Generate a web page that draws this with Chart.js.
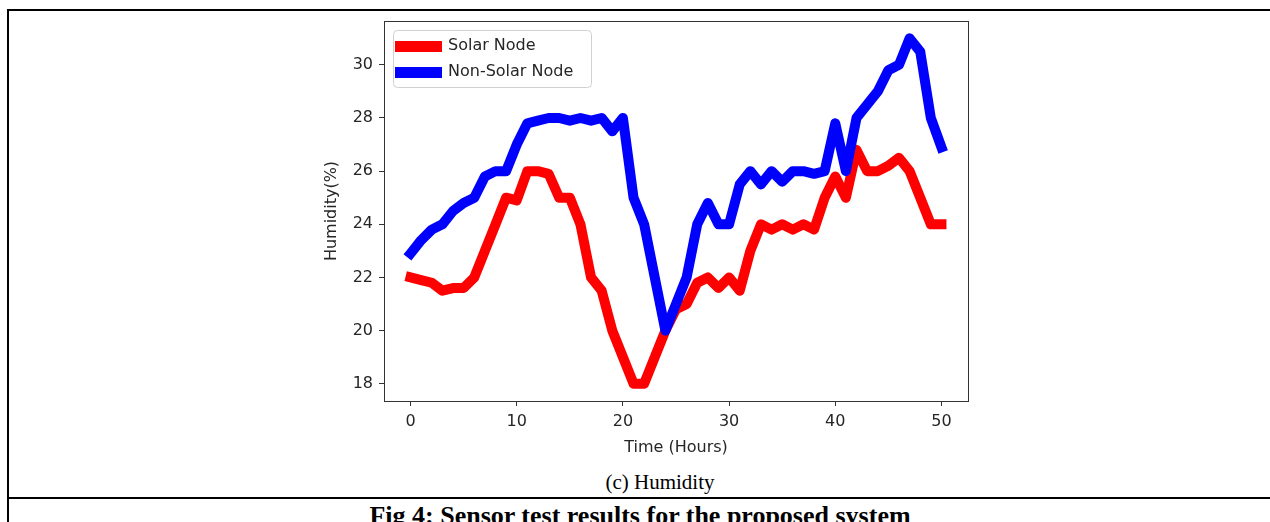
<!DOCTYPE html>
<html lang="en">
<head>
    <meta charset="UTF-8">
    <title>Humidity</title>
    <script src="https://cdn.jsdelivr.net/npm/chart.js@4.4.0/dist/chart.umd.min.js"></script>
    <style>
        body {
            margin: 0;
            background: #ffffff;
            width: 1270px;
            height: 522px;
            overflow: hidden;
            position: relative;
        }
        .rule {
            position: absolute;
            background: #000;
        }
        .caption {
            position: absolute;
            font-family: 'Liberation Serif', 'Times New Roman', serif;
            font-size: 21px;
            color: #000;
            white-space: nowrap;
            transform: translateX(-50%);
        }
        #humidityChart {
            position: absolute;
            left: 0;
            top: 0;
        }
    </style>
</head>
<body>
    <div class="rule" style="left:7px; top:9px; width:1263px; height:2px;"></div>
    <div class="rule" style="left:7px; top:9px; width:2px; height:513px;"></div>
    <div class="rule" style="left:7px; top:497px; width:1263px; height:2px;"></div>

    <div class="caption" style="left:660px; top:470px;">(c) Humidity</div>
    <div class="caption" style="left:640px; top:501px; font-size:26px; font-weight:bold;">Fig 4: Sensor test results for the proposed system</div>

    <canvas id="humidityChart" width="1270" height="470"></canvas>

    <script>
        // data
        const hours = [0, 1, 2, 3, 4, 5, 6, 7, 8, 9, 10,
            11, 12, 13, 14, 15, 16, 17, 18, 19, 20,
            21, 22, 23, 24, 25, 26, 27, 28, 29, 30,
            31, 32, 33, 34, 35, 36, 37, 38, 39, 40,
            41, 42, 43, 44, 45, 46, 47, 48, 49, 50];
        const solarNode = [22.0, 21.9, 21.8, 21.5, 21.6, 21.6, 22.0, 23.0, 24.0, 25.0, 24.9,
            26.0, 26.0, 25.9, 25.0, 25.0, 24.0, 22.0, 21.5, 20.0, 19.0,
            18.0, 18.0, 19.0, 20.0, 20.8, 21.0, 21.8, 22.0, 21.6, 22.0,
            21.5, 23.0, 24.0, 23.8, 24.0, 23.8, 24.0, 23.8, 25.0, 25.8,
            25.0, 26.8, 26.0, 26.0, 26.2, 26.5, 26.0, 25.0, 24.0, 24.0];
        const nonSolarNode = [22.9, 23.4, 23.8, 24.0, 24.5, 24.8, 25.0, 25.8, 26.0, 26.0, 27.0,
            27.8, 27.9, 28.0, 28.0, 27.9, 28.0, 27.9, 28.0, 27.5, 28.0,
            25.0, 24.0, 22.0, 20.0, 21.0, 22.0, 24.0, 24.8, 24.0, 24.0,
            25.5, 26.0, 25.5, 26.0, 25.6, 26.0, 26.0, 25.9, 26.0, 27.8,
            26.0, 28.0, 28.5, 29.0, 29.8, 30.0, 31.0, 30.5, 28.0, 26.9];
        const xTicks = [0, 10, 20, 30, 40, 50];
        const yTicks = [18, 20, 22, 24, 26, 28, 30];

        const font = { family: 'DejaVu Sans', size: 16 };
        const inkColor = '#262626';

        function toPoints(values) {
            return hours.map((h, i) => ({ x: h, y: values[i] }));
        }

        // matplotlib style box around the axes
        const frame = {
            id: 'frame',
            afterDatasetsDraw(chart) {
                const { ctx, chartArea: a } = chart;
                ctx.save();
                ctx.strokeStyle = '#333';
                ctx.lineWidth = 1;
                ctx.strokeRect(a.left + 0.5, a.top + 0.5, a.right - a.left, a.bottom - a.top);
                ctx.restore();
            }
        };

        // legend drawn inside the axes, upper left
        const innerLegend = {
            id: 'innerLegend',
            afterDraw(chart) {
                const { ctx, chartArea: a } = chart;
                const x = a.left + 9, y = a.top + 9;
                const w = 198, h = 57;
                ctx.save();
                ctx.fillStyle = 'rgba(255,255,255,0.8)';
                ctx.strokeStyle = '#d0d0d0';
                ctx.lineWidth = 1;
                ctx.beginPath();
                ctx.roundRect(x + 0.5, y + 0.5, w, h, 4);
                ctx.fill();
                ctx.stroke();
                ctx.font = font.size + 'px ' + font.family;
                ctx.textBaseline = 'middle';
                chart.data.datasets.forEach((ds, i) => {
                    const cy = y + 16 + i * 26;
                    ctx.fillStyle = ds.borderColor;
                    ctx.fillRect(x + 2, cy - 5, 47, 11);
                    ctx.fillStyle = inkColor;
                    ctx.fillText(ds.label, x + 55, cy);
                });
                ctx.restore();
            }
        };

        new Chart(document.getElementById('humidityChart'), {
            type: 'line',
            data: {
                datasets: [{
                    label: 'Solar Node',
                    data: toPoints(solarNode),
                    borderColor: '#ff0000',
                    borderWidth: 10,
                    order: 2
                }, {
                    label: 'Non-Solar Node',
                    data: toPoints(nonSolarNode),
                    borderColor: '#0000ff',
                    borderWidth: 10,
                    order: 1
                }]
            },
            plugins: [frame, innerLegend],
            options: {
                responsive: false,
                animation: false,
                elements: {
                    point: { radius: 0, hoverRadius: 0 },
                    line: { tension: 0, borderCapStyle: 'square', borderJoinStyle: 'round', fill: false }
                },
                layout: { padding: { left: 300, right: 302, top: 21, bottom: 9 } },
                plugins: {
                    legend: { display: false },
                    tooltip: { enabled: false }
                },
                scales: {
                    x: {
                        type: 'linear',
                        min: -2.5,
                        max: 52.5,
                        afterBuildTicks: s => { s.ticks = xTicks.map(v => ({ value: v })); },
                        afterFit: s => { s.height = 60; },
                        grid: { drawOnChartArea: false, tickLength: 5, tickColor: '#333' },
                        border: { color: '#333' },
                        ticks: { font: font, color: inkColor, padding: 6, maxRotation: 0 },
                        title: {
                            display: true,
                            text: 'Time (Hours)',
                            font: font,
                            color: inkColor,
                            padding: { top: 0, bottom: 4 }
                        }
                    },
                    y: {
                        type: 'linear',
                        min: 17.35,
                        max: 31.65,
                        afterBuildTicks: s => { s.ticks = yTicks.map(v => ({ value: v })); },
                        afterFit: s => { s.width = 84; },
                        grid: { drawOnChartArea: false, tickLength: 5, tickColor: '#333' },
                        border: { color: '#333' },
                        ticks: { font: font, color: inkColor, padding: 6 },
                        title: {
                            display: true,
                            text: 'Humidity(%)',
                            font: font,
                            color: inkColor,
                            padding: { top: 22, bottom: 0 }
                        }
                    }
                }
            }
        });
    </script>
</body>
</html>
